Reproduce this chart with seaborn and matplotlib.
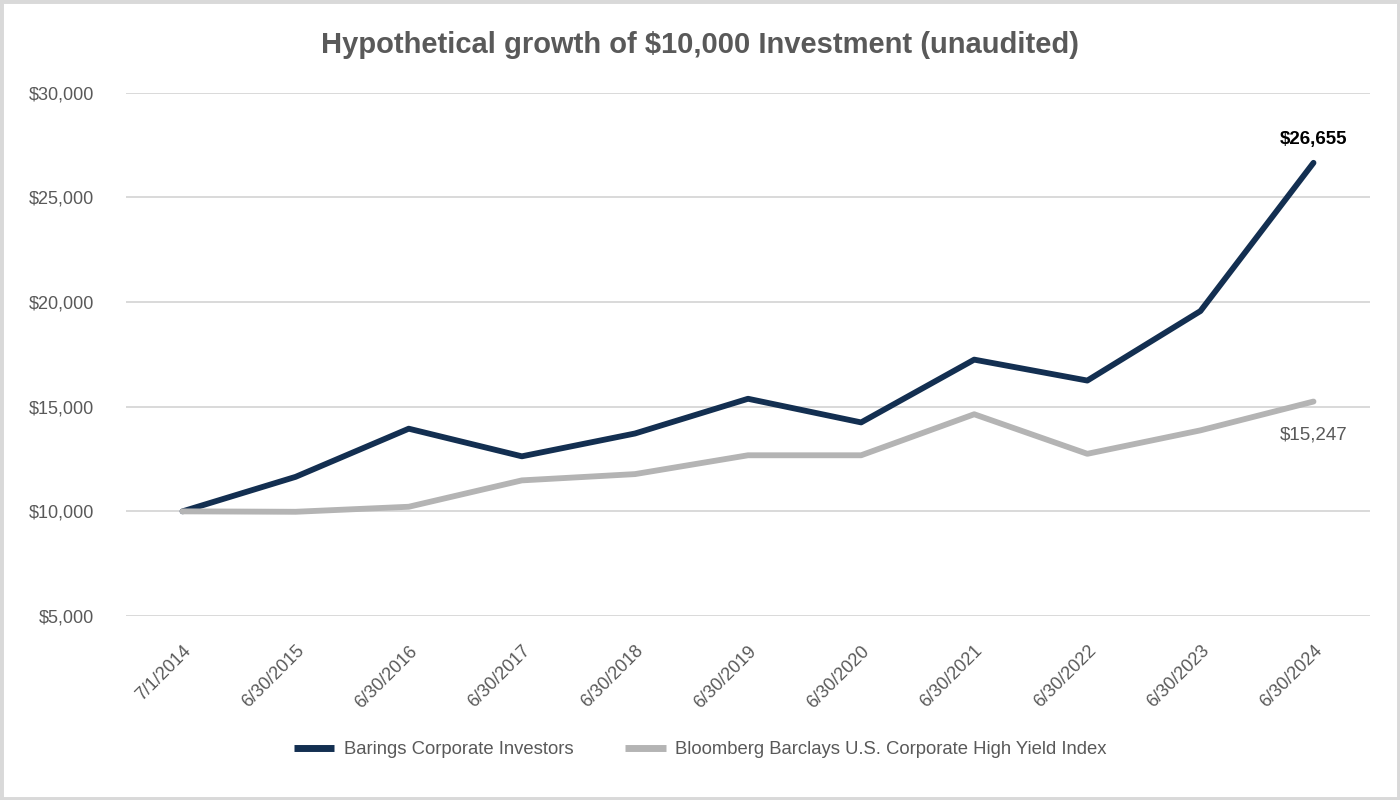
import matplotlib
matplotlib.use("Agg")
import matplotlib.pyplot as plt
import seaborn as sns
import pandas as pd
from matplotlib.patches import Rectangle
from matplotlib.lines import Line2D
from matplotlib.ticker import FuncFormatter

dates = ["7/1/2014", "6/30/2015", "6/30/2016", "6/30/2017", "6/30/2018", "6/30/2019",
         "6/30/2020", "6/30/2021", "6/30/2022", "6/30/2023", "6/30/2024"]
barings = [10000, 11650, 13950, 12630, 13720, 15380, 14250, 17250, 16250, 19570, 26655]
bloomberg = [10000, 9980, 10220, 11480, 11780, 12680, 12680, 14640, 12750, 13870, 15247]
series_names = ["Barings Corporate Investors", "Bloomberg Barclays U.S. Corporate High Yield Index"]
colors = ["#132f51", "#b4b4b4"]

df = pd.DataFrame({
    "date": dates * 2,
    "value": barings + bloomberg,
    "series": [series_names[0]] * len(dates) + [series_names[1]] * len(dates),
})
df["x"] = list(range(len(dates))) * 2

sns.set_theme(style="white")
plt.rcParams["font.family"] = ["Liberation Sans", "DejaVu Sans"]

fig = plt.figure(figsize=(14, 8), dpi=100)
ax = fig.add_axes([0.09, 0.23, 0.8886, 0.654])

sns.lineplot(data=df, x="x", y="value", hue="series", palette=colors,
             hue_order=series_names, linewidth=4.2, ax=ax, legend=False, sort=False)

ax.set_xlim(-0.5, len(dates) - 0.5)
ax.set_ylim(5000, 30000)
ax.set_yticks([5000, 10000, 15000, 20000, 25000, 30000])
ax.yaxis.set_major_formatter(FuncFormatter(lambda v, p: f"${v:,.0f}"))
ax.set_xticks(range(len(dates)))
ax.set_xticklabels(dates, rotation=45, ha="right", rotation_mode="anchor")
ax.tick_params(axis="y", labelsize=13, labelcolor="#595959", pad=23, length=0)
ax.tick_params(axis="x", labelsize=13, labelcolor="#595959", pad=19, length=0)
ax.grid(axis="y", color="#d9d9d9", linewidth=1.4)
ax.grid(axis="x", visible=False)
for s in ax.spines.values():
    s.set_visible(False)
ax.set_xlabel("")
ax.set_ylabel("")

# end labels
ax.annotate(f"${barings[-1]:,}", (len(dates) - 1, barings[-1]), xytext=(0, 11),
            textcoords="offset points", ha="center", va="bottom",
            fontsize=13.5, fontweight="bold", color="black")
ax.annotate(f"${bloomberg[-1]:,}", (len(dates) - 1, bloomberg[-1]), xytext=(0, -18),
            textcoords="offset points", ha="center", va="top",
            fontsize=13.5, color="#595959")

fig.suptitle("Hypothetical growth of $10,000 Investment (unaudited)", y=0.944, va="center",
             fontsize=21, fontweight="bold", color="#595959")

handles = [Line2D([0], [0], color=c, linewidth=5, solid_capstyle="butt") for c in colors]
fig.legend(handles, series_names, loc="center", bbox_to_anchor=(0.5, 0.0625), ncol=2,
           frameon=False, fontsize=13.3, labelcolor="#595959", handlelength=2.2,
           columnspacing=2.8, handletextpad=0.5)

fig.patches.append(Rectangle((0, 0), 1, 1, transform=fig.transFigure, fill=False,
                             edgecolor="#d9d9d9", linewidth=5, zorder=10))

fig.savefig("out.png", dpi=100)
